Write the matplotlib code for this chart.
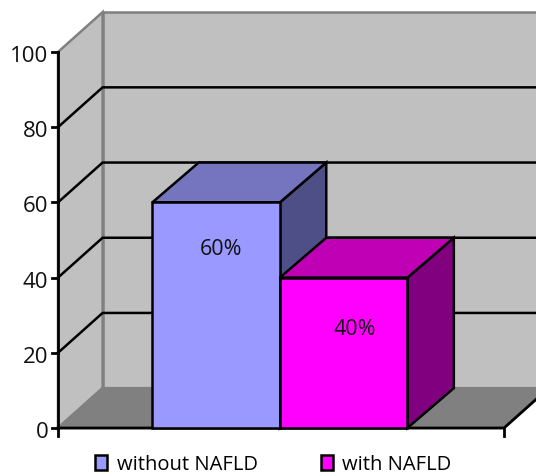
import matplotlib
matplotlib.use("Agg")
import matplotlib.pyplot as plt
from matplotlib.patches import Patch, Polygon

categories = ["without NAFLD", "with NAFLD"]
values = [60, 40]
value_labels = ["60%", "40%"]
y_ticks = [0, 20, 40, 60, 80, 100]

FRONT = ["#9999ff", "#ff00ff"]
TOP = ["#7474bf", "#bf00b4"]
SIDE = ["#4f4f88", "#800080"]

# eje x: 0..1 es el suelo frontal del grafico
DX = 0.1
BAR_DX = 0.104
DY = 10.6
BAR_LEFT = 0.2115
BAR_W = 0.286
LABEL_OFF = [(0.011, -12.5), (0.025, -13.9)]

plt.rcParams["font.family"] = ["Open Sans", "DejaVu Sans"]

fig = plt.figure(figsize=(5.36, 4.75), dpi=100)
ax = fig.add_axes([0, 0, 1, 1])
ax.set_xlim(-58 / 446, 478 / 446)
ax.set_ylim(-47 / 3.76, 428 / 3.76)
ax.axis("off")


def poly(pts, fc, ec="black", lw=1.8, z=2):
    ax.add_patch(Polygon(pts, closed=True, fc=fc, ec=ec, lw=lw, zorder=z, joinstyle="miter"))


# paredes y suelo
poly([(DX, DY), (1.3, DY), (1.3, 100 + DY), (DX, 100 + DY)], "#c0c0c0", "#808080")
poly([(0, 0), (DX, DY), (DX, 100 + DY), (0, 100)], "#c0c0c0", "#808080")
poly([(0, 0), (1, 0), (1 + DX, DY), (DX, DY)], "#808080", "#808080", z=2.1)

# rejilla
for v in y_ticks[1:-1]:
    ax.plot([0, DX, 1.3], [v, v + DY, v + DY], color="black", lw=1.8, zorder=3)

# ejes
ax.plot([0, 0], [0, 100], color="black", lw=2, zorder=4)
ax.plot([0, 1, 1 + DX], [0, 0, DY], color="black", lw=2, zorder=4)
for v in y_ticks:
    ax.plot([-0.014, 0], [v, v], color="black", lw=2, zorder=4)
    ax.text(-0.022, v - 1.2, str(v), ha="right", va="center", fontsize=16, color="#111111", zorder=5)
ax.plot([0, 0], [0, -2], color="black", lw=2, zorder=4)
ax.plot([1, 1], [0, -2], color="black", lw=2, zorder=4)

# barras
for i, v in enumerate(values):
    x0 = BAR_LEFT + i * BAR_W
    x1 = x0 + BAR_W
    z = 5 + i
    poly([(x1, 0), (x1 + BAR_DX, DY), (x1 + BAR_DX, v + DY), (x1, v)], SIDE[i], z=z)
    poly([(x0, v), (x0 + BAR_DX, v + DY), (x1 + BAR_DX, v + DY), (x1, v)], TOP[i], z=z)
    poly([(x0, 0), (x1, 0), (x1, v), (x0, v)], FRONT[i], z=z)
    ax.text((x0 + x1) / 2 + LABEL_OFF[i][0], v + LABEL_OFF[i][1], value_labels[i], ha="center",
            va="center", fontsize=15.5, color="#111111", zorder=8)

handles = [Patch(fc=FRONT[i], ec="black", lw=1.8, label=categories[i]) for i in range(2)]
ax.legend(handles=handles, ncol=2, loc="lower left", bbox_to_anchor=(0.178, 0.001), frameon=False,
          fontsize=14.5, handlelength=0.6, handleheight=0.7, handletextpad=0.45, columnspacing=3.15,
          borderpad=0, borderaxespad=0)

fig.savefig("out.png", dpi=100)
